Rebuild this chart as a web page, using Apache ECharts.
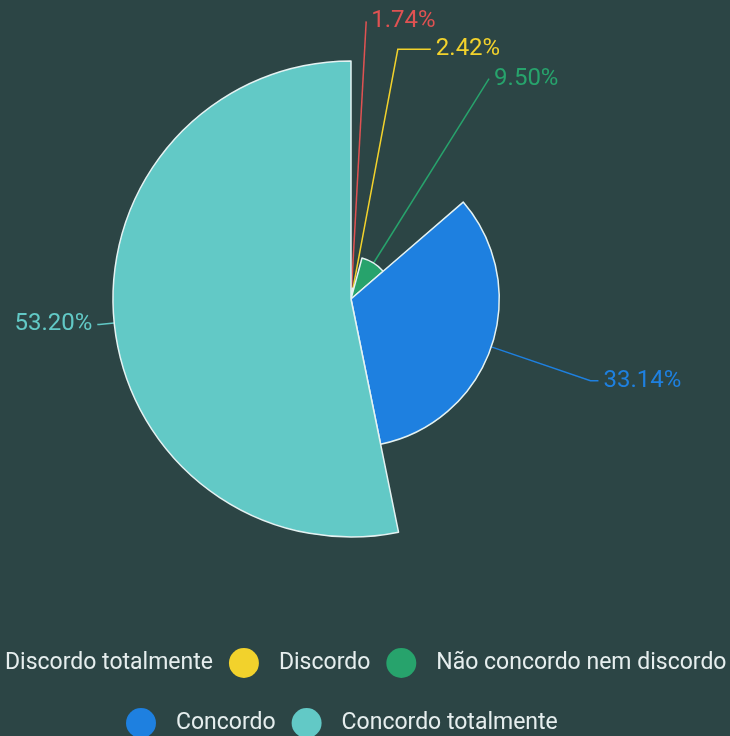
<!DOCTYPE html>
<html>
<head>
<meta charset="utf-8">
<script src="https://cdn.jsdelivr.net/npm/echarts@6/dist/echarts.min.js"></script>
<style>
  html, body { margin: 0; padding: 0; background: #2c4545; }
  #chart { width: 730px; height: 736px; }
</style>
</head>
<body>
<div id="chart"></div>
<script>
// dados
var categorias = ["Discordo totalmente", "Discordo", "Não concordo nem discordo", "Concordo", "Concordo totalmente"];
var valores = [1.74, 2.42, 9.50, 33.14, 53.20];

var legendaLinha1 = categorias.slice(0, 3);
var legendaLinha2 = categorias.slice(3);

// estilo
var cores = ["#e05252", "#f2d22c", "#27a36c", "#1e80e0", "#62c9c6"];
// comprimento das linhas dos rótulos [length, length2], para afastar os rótulos pequenos
var linhasRotulo = [[40, 0], [16, 33], [22, 0], [15, 8], [15, 2]];

var myChart = echarts.init(document.getElementById("chart"), null, { renderer: "canvas" });

var dados = categorias.map(function (nome, i) {
  return {
    name: nome,
    value: valores[i],
    itemStyle: { color: cores[i] },
    label: { color: cores[i] },
    labelLine: {
      length: linhasRotulo[i][0],
      length2: linhasRotulo[i][1],
      lineStyle: { color: cores[i] }
    }
  };
});

var legendaBase = {
  orient: "horizontal",
  width: 900,
  icon: "circle",
  itemWidth: 60,
  itemHeight: 30,
  itemGap: 16,
  itemStyle: { borderWidth: 0 },
  textStyle: { color: "#e6eeee", fontSize: 23, fontFamily: "Roboto" }
};

var option = {
  backgroundColor: "#2c4545",
  color: cores,
  legend: [
    Object.assign({}, legendaBase, { data: legendaLinha1, left: -50, top: 643 }),
    Object.assign({}, legendaBase, { data: legendaLinha2, left: 121, top: 703 })
  ],
  series: [
    {
      type: "pie",
      roseType: "radius",
      center: [351, 299],
      radius: [0, 238],
      startAngle: 90,
      avoidLabelOverlap: false,
      itemStyle: {
        borderColor: "#e4f2f2",
        borderWidth: 1.5
      },
      label: {
        show: true,
        fontSize: 24,
        overflow: "none",
        fontFamily: "Roboto",
        formatter: function (p) {
          return p.percent.toFixed(2) + "%";
        }
      },
      labelLine: {
        lineStyle: { width: 1.5 }
      },
      data: dados
    }
  ]
};

myChart.setOption(option);
</script>
</body>
</html>
